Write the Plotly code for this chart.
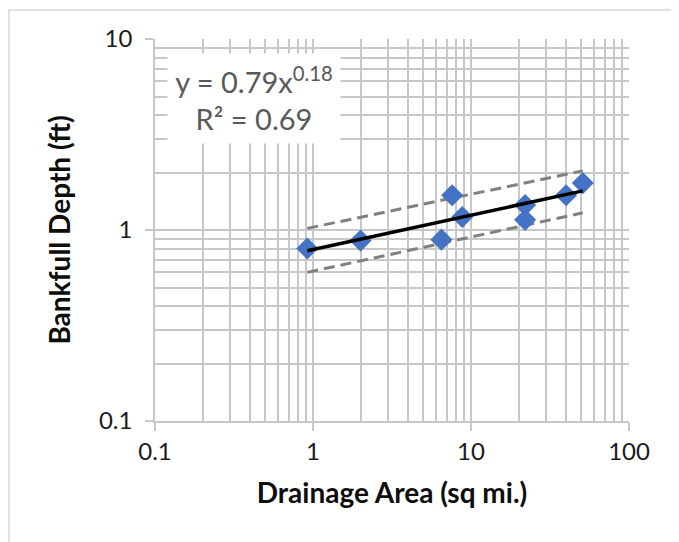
import plotly.graph_objects as go

# Data
drainage_area = [0.92, 2.0, 6.5, 7.6, 8.8, 22.0, 22.0, 40.0, 51.0]
bankfull_depth = [0.80, 0.88, 0.89, 1.52, 1.17, 1.35, 1.13, 1.52, 1.76]

trend_coef = 0.79
trend_exp = 0.18
trend_x = [0.92, 51.0]
upper_y = [1.02, 2.04]
lower_y = [0.60, 1.23]

x_ticks = [0.1, 1, 10, 100]
x_ticklabels = ["0.1", "1", "10", "100"]
y_ticks = [0.1, 1, 10]
y_ticklabels = ["0.1", "1", "10"]

FONT = "Lato"
GRID = "#c8c8c8"

trend_y = [trend_coef * x ** trend_exp for x in trend_x]

fig = go.Figure()
fig.add_trace(go.Scatter(x=trend_x, y=upper_y, mode="lines",
                         line=dict(color="#808080", width=3, dash="11px,6px"),
                         showlegend=False, hoverinfo="skip"))
fig.add_trace(go.Scatter(x=trend_x, y=lower_y, mode="lines",
                         line=dict(color="#808080", width=3, dash="11px,6px"),
                         showlegend=False, hoverinfo="skip"))
fig.add_trace(go.Scatter(x=drainage_area, y=bankfull_depth, mode="markers",
                         marker=dict(symbol="diamond", size=17, color="#4472C4"),
                         showlegend=False))
fig.add_trace(go.Scatter(x=trend_x, y=trend_y, mode="lines",
                         line=dict(color="black", width=3.5),
                         showlegend=False, hoverinfo="skip"))

axis_common = dict(
    type="log", showgrid=True, gridcolor=GRID, gridwidth=1.5,
    showline=True, linecolor=GRID, linewidth=1.5, mirror=False,
    ticks="outside", ticklen=8, tickcolor=GRID, tickwidth=1.5,
    minor=dict(showgrid=True, gridcolor=GRID, gridwidth=1.5, dtick="D1", ticks=""),
    tickfont=dict(family=FONT, size=24, color="#1a1a1a"),
    zeroline=False, automargin=False,
)

fig.update_xaxes(range=[-1, 2], tickvals=x_ticks, ticktext=x_ticklabels,
                 title=dict(text="<b>Drainage Area (sq mi.)</b>",
                            font=dict(family=FONT, size=28, color="#0d0d0d"),
                            standoff=20),
                 **axis_common)
fig.update_yaxes(range=[-1, 1], tickvals=y_ticks, ticktext=y_ticklabels,
                 ticklabelstandoff=8,
                 title=dict(text="<b>Bankfull Depth (ft)</b>",
                            font=dict(family=FONT, size=28, color="#0d0d0d"),
                            standoff=20),
                 **axis_common)

M_L, M_T, PW, PH = 147, 31, 474, 382

fig.add_annotation(
    xref="paper", yref="paper", x=0.209, y=0.844, xanchor="center", yanchor="middle",
    text="y = 0.79x<sup>0.18</sup><br>R² = 0.69", showarrow=False,
    font=dict(family=FONT, size=29, color="#595959"),
    bgcolor="white", width=170, height=87, align="center",
)

# outer chart border
fig.add_shape(type="rect", xref="paper", yref="paper",
              x0=(1 - M_L) / PW, x1=(669 - M_L) / PW,
              y0=(M_T + PH - 546) / PH, y1=(M_T + PH - 2) / PH,
              line=dict(color="#d9d9d9", width=1.5), fillcolor="rgba(0,0,0,0)",
              layer="below")

fig.update_layout(
    width=679, height=542,
    margin=dict(l=M_L, r=679 - M_L - PW, t=M_T, b=542 - M_T - PH),
    plot_bgcolor="white", paper_bgcolor="white",
    font=dict(family=FONT),
)

fig.write_html("out.html")
